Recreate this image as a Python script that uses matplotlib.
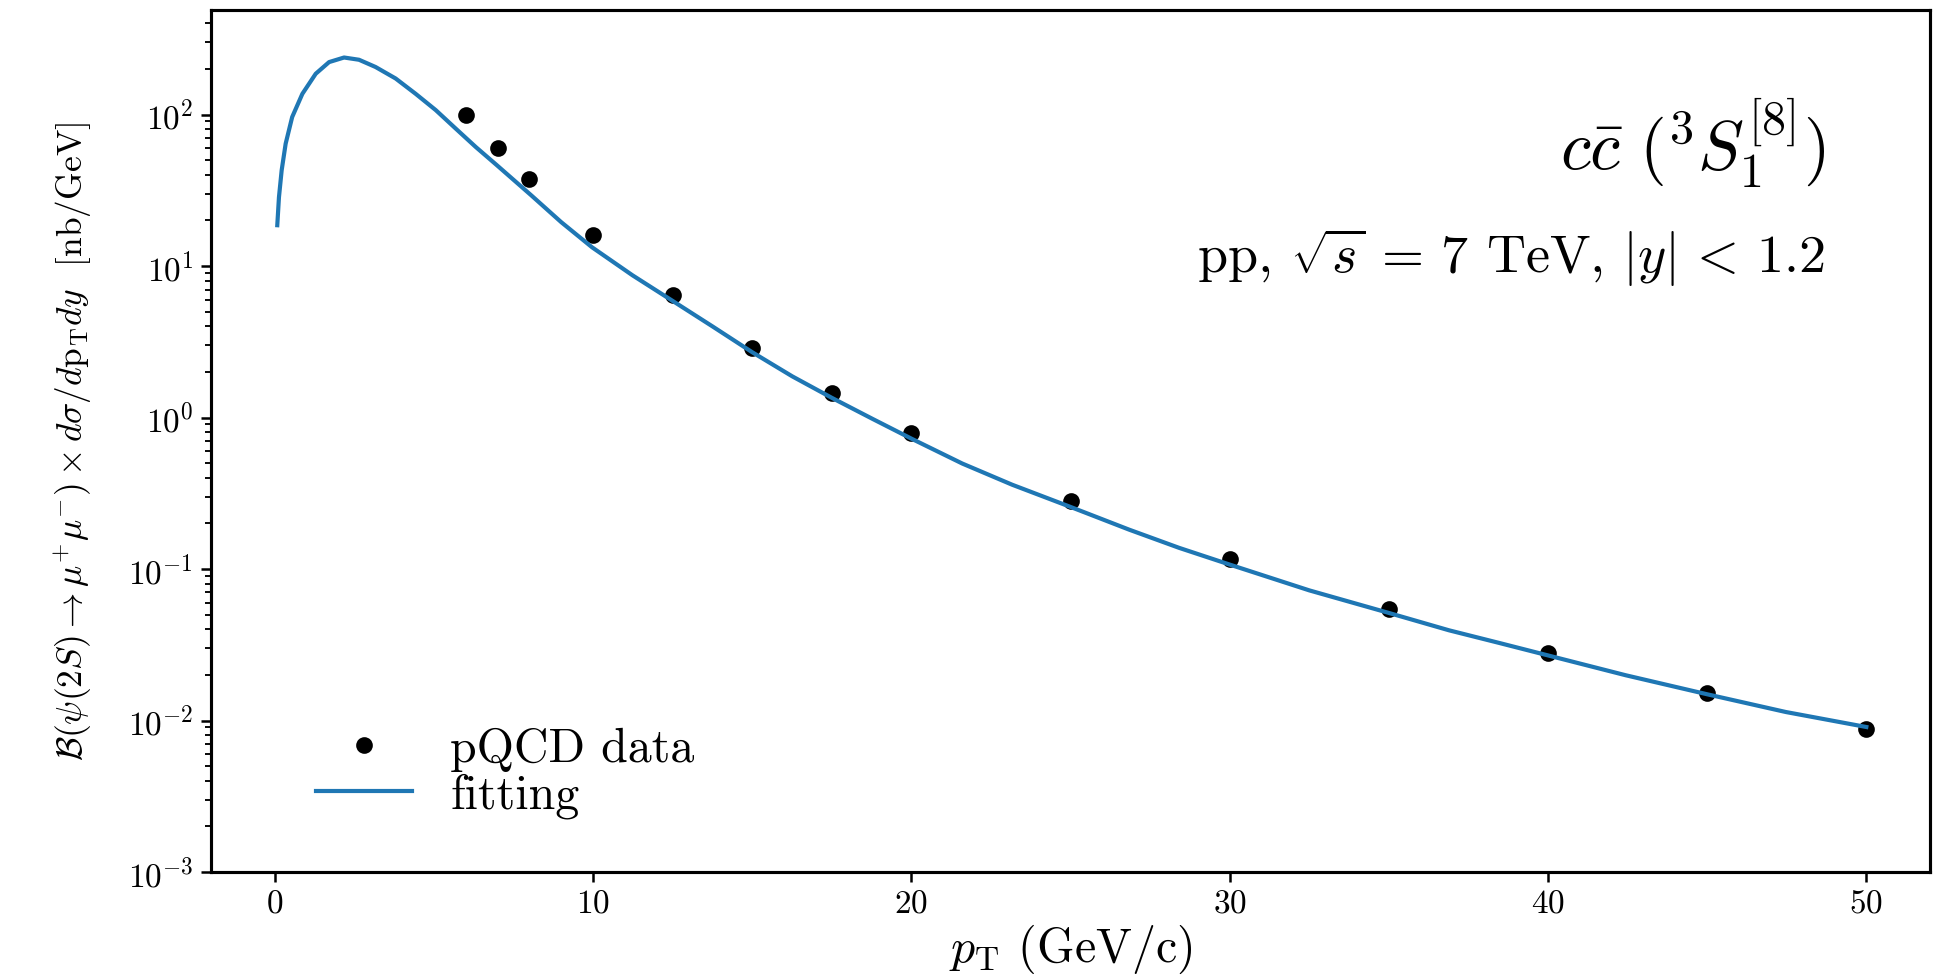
import matplotlib
matplotlib.use('Agg')
import matplotlib.pyplot as plt

plt.rcParams['font.family'] = 'serif'
plt.rcParams['font.serif'] = ['cmr10']
plt.rcParams['mathtext.fontset'] = 'cm'
plt.rcParams['axes.formatter.use_mathtext'] = True
plt.rcParams['axes.unicode_minus'] = False

# pQCD points
pt_data = [6, 7, 8, 10, 12.5, 15, 17.5, 20, 25, 30, 35, 40, 45, 50]
xsec_data = [100, 60, 37.5, 16, 6.41, 2.89, 1.46, 0.794, 0.280, 0.116,
             0.0542, 0.0277, 0.0152, 0.00885]

# fitted curve, sampled along the drawn line
pt_fit = [0.082, 0.135, 0.22, 0.345, 0.55, 0.87, 1.29, 1.71, 2.18, 2.65,
          3.17, 3.80, 4.43, 5.06, 5.69, 6.32, 6.97, 8.06, 9.0, 9.97, 11.24,
          12.5, 13.75, 15, 16.26, 17.5, 18.78, 20, 21.6, 23.17, 25, 26.84,
          28.41, 30, 32.5, 35, 36.89, 38.47, 40, 42.44, 45, 47.47, 50]
xsec_fit = [18.6, 28.5, 42.9, 64.2, 96.3, 137, 186, 222, 238, 230,
            206, 173, 137, 107, 80.7, 61, 46.5, 29.3, 19.5, 13.3, 8.69,
            5.89, 4.0, 2.70, 1.87, 1.35, 0.98, 0.726, 0.497, 0.36, 0.257, 0.182,
            0.138, 0.107, 0.0723, 0.0513, 0.0394, 0.0325, 0.0269, 0.0199,
            0.0149, 0.01138, 0.00906]

fig = plt.figure(figsize=(12.98, 6.5), dpi=150)
ax = fig.add_axes([211 / 1947, 1 - 872 / 975, 1719 / 1947, 862 / 975])

ax.plot(pt_data, xsec_data, 'o', color='k', markersize=7, label='pQCD data')
ax.plot(pt_fit, xsec_fit, color='#1f77b4', lw=2, label='fitting')

ax.set_yscale('log')
ax.set_xlim(-2, 52)
ax.set_ylim(1e-3, 490)
ax.set_xticks([0, 10, 20, 30, 40, 50])

for s in ax.spines.values():
    s.set_linewidth(1.5)
ax.tick_params(which='major', labelsize=16, length=5, width=1.2)
ax.tick_params(which='minor', length=3, width=0.9)

ax.set_xlabel(r'$p_{\mathrm{T}}$ (GeV/c)', fontsize=23, labelpad=2)
ax.set_ylabel(r'$\mathcal{B}(\psi(2S)\to\mu^{+}\mu^{-})\times d\sigma/d\mathrm{p}_{\mathrm{T}}dy$  [nb/GeV]',
              fontsize=17, labelpad=16)

ax.text(0.939, 0.846, r'$c\bar{c}\ (^{3}S_{1}^{[8]})$', transform=ax.transAxes,
        ha='right', va='center', fontsize=33)
ax.text(0.939, 0.713, r'pp, $\sqrt{s}\,=\,7$ TeV, $|y|\,<\,1.2$', transform=ax.transAxes,
        ha='right', va='center', fontsize=26)

ax.legend(loc='lower left', frameon=False, fontsize=23, labelspacing=0.03,
          bbox_to_anchor=(0.036, 0.012))

fig.savefig('out.png', dpi=150)
